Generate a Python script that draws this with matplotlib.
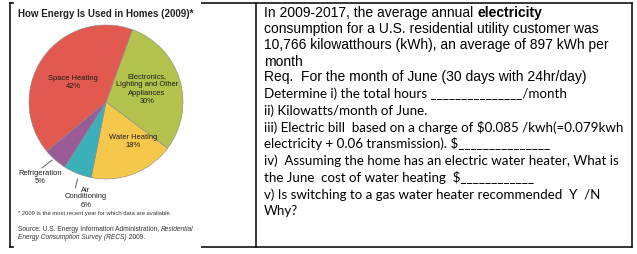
import matplotlib
matplotlib.use("Agg")
import matplotlib.pyplot as plt
from matplotlib.lines import Line2D
from matplotlib.patches import Rectangle

# pie data, clockwise from the top right wedge
uses = ["Electronics,\nLighting and Other\nAppliances", "Water Heating", "Air\nConditioning",
        "Refrigeration", "Space Heating"]
shares = [30, 18, 6, 5, 42]
colors = ["#b3c24c", "#f5c84c", "#3cb0ba", "#9b5a98", "#e25a4f"]

title = "How Energy Is Used in Homes (2009)*"
footnote = "* 2009 is the most recent year for which data are available."

question_arial = [
    "consumption for a U.S. residential utility customer was",
    "10,766 kilowatthours (kWh), an average of 897 kWh per",
    "month",
    "Req.  For the month of June (30 days with 24hr/day)",
]
question_calibri = [
    "Determine i) the total hours _______________/month",
    "ii) Kilowatts/month of June.",
    "iii) Electric bill  based on a charge of $0.085 /kwh(=0.079kwh",
    "electricity + 0.06 transmission). $_______________",
    "iv)  Assuming the home has an electric water heater, What is",
    "the June  cost of water heating  $____________",
    "v) Is switching to a gas water heater recommended  Y  /N",
    "Why?",
]

W, H = 637, 254
fig = plt.figure(figsize=(W / 100, H / 100), dpi=100)
fig.patch.set_facecolor("white")


def fx(x):
    return x / W


def fy(y):
    return 1 - y / H


def hline(x0, x1, y):
    fig.add_artist(Line2D([fx(x0), fx(x1)], [fy(y), fy(y)], color="black", lw=1.1, zorder=1))


def vline(x, y0, y1):
    fig.add_artist(Line2D([fx(x), fx(x)], [fy(y0), fy(y1)], color="black", lw=1.1, zorder=1))


# table borders
hline(10, 632, 3)
hline(10, 632, 247)
vline(10, 3, 247)
vline(256, 3, 247)
vline(632, 3, 247)

# pasted picture covers part of the borders
fig.add_artist(Rectangle((fx(14), fy(249)), fx(201) - fx(14), fy(2) - fy(249),
                         facecolor="white", edgecolor="none", zorder=2))

# pie
r = 77
cx, cy = 106, 102
ax = fig.add_axes([fx(cx - r), fy(cy + r), 2 * r / W, 2 * r / H], zorder=3)
ax.pie(shares, colors=colors, startangle=70, counterclock=False,
       wedgeprops=dict(edgecolor="#888888", linewidth=0.4))
ax.set_xlim(-1, 1)
ax.set_ylim(-1, 1)
ax.set_aspect("auto")
ax.axis("off")

lab = dict(family="Liberation Sans", fontsize=5.4, color="#1a1a1a", ha="center", va="center",
           linespacing=1.3, zorder=5)
fig.text(fx(147), fy(89), uses[0] + "\n%d%%" % shares[0], **lab)
fig.text(fx(133), fy(141.5), uses[1] + "\n%d%%" % shares[1], **lab)
fig.text(fx(73), fy(82.5), uses[4] + "\n%d%%" % shares[4], **lab)
fig.text(fx(40), fy(177.5), uses[3] + "\n%d%%" % shares[3], **lab)
fig.text(fx(81), fy(190), "Air", **dict(lab, ha="left"))
fig.text(fx(86), fy(201), "Conditioning\n%d%%" % shares[2], **lab)
fig.add_artist(Line2D([fx(52), fx(42)], [fy(160), fy(168)], color="#444444", lw=0.6, zorder=5))
fig.add_artist(Line2D([fx(77.5), fx(75.5)], [fy(179), fy(188)], color="#444444", lw=0.6, zorder=5))

fig.text(fx(18), fy(14), title, family="Liberation Sans", fontsize=7, fontweight="bold",
         color="#222222", va="center", zorder=5)
fig.text(fx(18), fy(214), footnote, family="Liberation Sans", fontsize=4.25,
         color="#333333", va="center", zorder=5)

renderer = fig.canvas.get_renderer()


def mixed(x, y, parts, **kw):
    # draws pieces of one line side by side on a shared baseline, each with its own style
    for s, style in parts:
        t = fig.text(fx(x), fy(y), s, va="baseline", zorder=5, **kw, **style)
        x = x + t.get_window_extent(renderer).width


src = dict(family="Liberation Sans", fontsize=4.8, color="#333333")
mixed(18, 231, [("Source: U.S. Energy Information Administration, ", {}),
                ("Residential", {"style": "italic"})], **src)
mixed(18, 239, [("Energy Consumption Survey (RECS)", {"style": "italic"}),
                (" 2009.", {})], **src)

# question text
arial = dict(family="Liberation Sans", fontsize=10, color="black")
mixed(264, 17, [("In 2009-2017, the average annual ", {}),
                ("electricity", {"fontweight": "bold"})], **arial)
for i, s in enumerate(question_arial):
    fig.text(fx(264), fy(29.5 + 16 * i), s, va="center", **arial)

calibri = dict(family="Lato", fontsize=9.6, color="black")
for i, s in enumerate(question_calibri):
    fig.text(fx(264), fy(93.5 + 16.8 * i), s, va="center", **calibri)

fig.savefig("out.png", dpi=100, facecolor="white")
